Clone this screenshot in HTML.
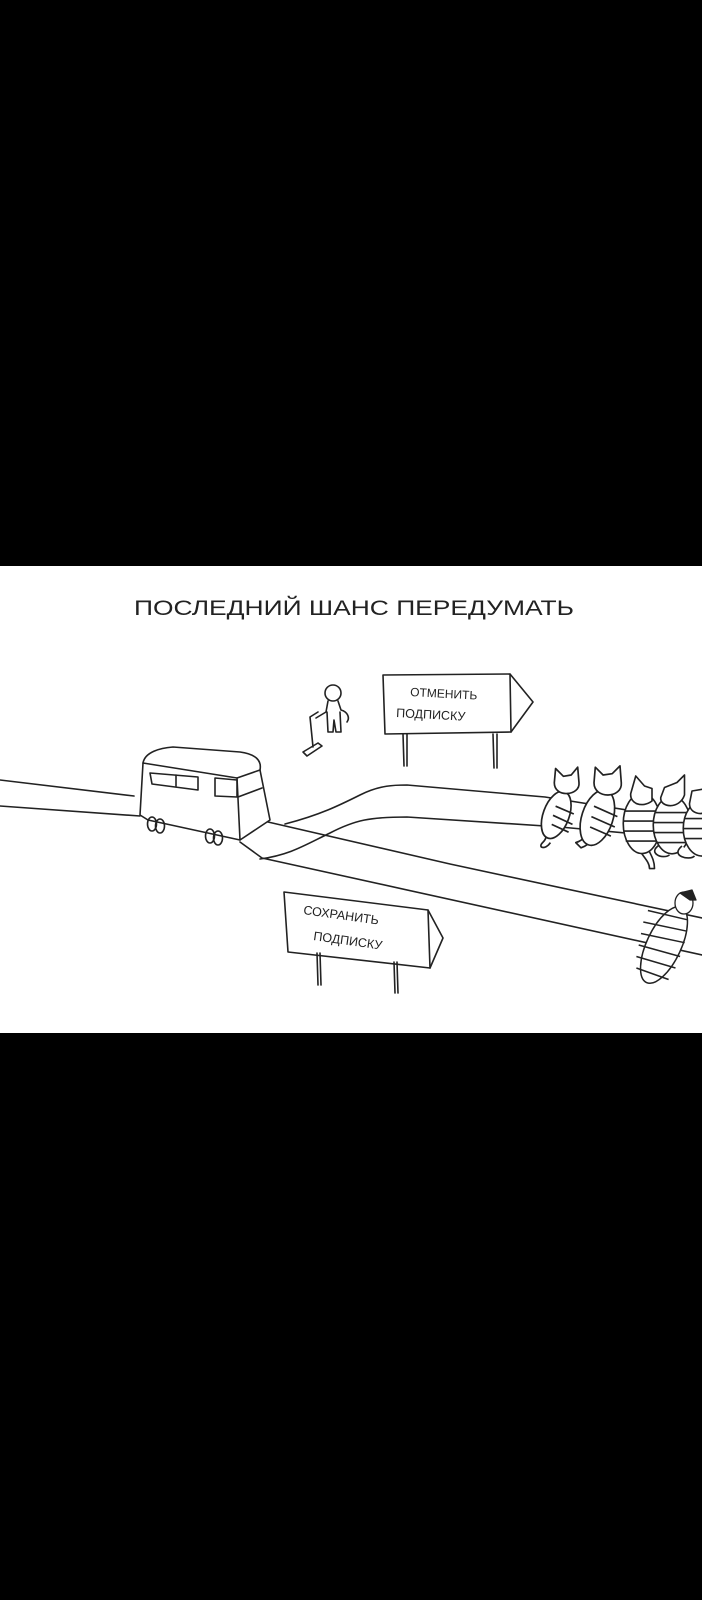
<!DOCTYPE html>
<html><head><meta charset="utf-8"><style>
html,body{margin:0;padding:0;background:#000;}
svg{display:block}
text{font-family:"Liberation Sans","DejaVu Sans",sans-serif;fill:#222}
</style></head><body>
<svg width="702" height="1600" viewBox="0 0 702 1600" xmlns="http://www.w3.org/2000/svg">
<rect x="0" y="0" width="702" height="1600" fill="#000"/>
<rect x="0" y="566" width="702" height="467" fill="#fff"/>
<text x="134" y="615" font-size="21" textLength="440" lengthAdjust="spacingAndGlyphs">ПОСЛЕДНИЙ ШАНС ПЕРЕДУМАТЬ</text>
<g fill="none" stroke="#222" stroke-width="1.6" stroke-linecap="round" stroke-linejoin="round">
<path d="M0 780 L134 796"/>
<path d="M0 806 L140 816"/>
<path d="M268 822 L450 864 L702 918"/>
<path d="M240 842 L262 858 L702 955"/>
<path d="M285 824 C320 815 340 805 360 795 C380 785 395 785 407 785 L545 797 L702 822"/>
<path d="M260 859 C290 855 305 845 330 833 C355 820 370 817 407 817 L560 827 L702 840"/>
<path d="M143 763 C145 752 160 748 173 747 L240 752 C255 754 262 760 260 770"/>
<path d="M143 763 L140 815 L148 820 L240 840 L237 778 Z"/>
<path d="M237 778 L260 770 L270 820 L240 840"/>
<path d="M238 797 L262 788"/>
<path d="M150 773 L198 777 L198 790 L152 784 Z"/>
<path d="M176 775 L176 786"/>
<path d="M215 778 L237 780 L237 797 L215 796 Z"/>
<ellipse cx="152" cy="824" rx="4.5" ry="7"/><ellipse cx="160" cy="826" rx="4.5" ry="7"/>
<ellipse cx="210" cy="836" rx="4.5" ry="7"/><ellipse cx="218" cy="838" rx="4.5" ry="7"/>
<path d="M383 675 L510 674 L533 702 L511 732 L385 734 Z"/>
<path d="M510 674 L511 732"/>
<path d="M403 734 L404 766 M407 734 L407 766"/>
<path d="M493 734 L494 768 M497 734 L497 768"/>
<circle cx="333" cy="693" r="8"/>
<path d="M328 701 L326 712 L316 718 M338 701 L341 710 C348 712 350 718 347 722 M327 712 L328 732 L333 732 L334 720 L336 732 L341 732 L340 712"/>
<path d="M310 717 L313 747 M303 752 L318 743 L322 746 L307 756 Z M310 717 L318 712"/>
<path d="M284 892 L428 910 L443 938 L430 968 L288 952 Z"/>
<path d="M428 910 L430 968"/>
<path d="M317 953 L318 985 M320 953 L321 985"/>
<path d="M394 962 L395 993 M397 962 L398 993"/>
</g>
<text x="410" y="696" font-size="12" transform="rotate(3 410 696)">ОТМЕНИТЬ</text>
<text x="396" y="717" font-size="12.5" transform="rotate(3 396 717)">ПОДПИСКУ</text>
<text x="303" y="914" font-size="12.5" transform="rotate(8 303 914)">СОХРАНИТЬ</text>
<text x="313" y="940" font-size="12.5" transform="rotate(8 313 940)">ПОДПИСКУ</text>
<g fill="#fff" stroke="#222" stroke-width="1.3" stroke-linejoin="round">
<g transform="translate(566,788) scale(1.3)"><path d="M-8 10 C-20 20 -10 35 -18 42 C-22 46 -16 48 -12 42"/><ellipse cx="0" cy="22" rx="10" ry="19" transform="rotate(20)"/><path d="M-8 14 L6 20 M-10 21 L5 28 M-11 28 L2 34" fill="none"/><path d="M-9 -4 L-8 -15 L-2 -9 L4 -10 L9 -16 L10 -4 C11 6 -9 8 -9 -4Z"/></g>
<g transform="translate(607,788) scale(1.3)"><path d="M-8 14 C-20 24 -10 38 -24 42 L-20 46 C-4 40 -12 28 -4 20" /><ellipse cx="0" cy="24" rx="12" ry="22" transform="rotate(18)"/><path d="M-10 14 L8 22 M-12 22 L6 30 M-13 30 L3 37" fill="none"/><path d="M-10 -4 L-9 -16 L-3 -10 L4 -11 L10 -17 L11 -4 C12 8 -10 9 -10 -4Z"/></g>
<g transform="translate(642,796) scale(1.25)"><path d="M-4 40 C0 48 6 52 6 58 L10 58 C10 50 6 46 4 40"/><ellipse cx="0" cy="22" rx="15" ry="24"/><path d="M-14 12 L14 12 M-15 20 L15 20 M-15 28 L15 28 M-13 36 L13 36" fill="none"/><path d="M-9 -2 L-5 -16 L2 -8 L8 -6 L8 4 C0 10 -10 6 -9 -2Z"/></g>
<g transform="translate(672,800) scale(1.25)"><path d="M-10 36 C-20 42 -8 48 -2 44"/><ellipse cx="0" cy="20" rx="15" ry="23"/><path d="M-14 10 L14 10 M-15 18 L15 18 M-15 26 L15 26 M-13 34 L13 34" fill="none"/><path d="M-9 -2 L-6 -10 L4 -14 L10 -20 L10 -4 C6 8 -10 6 -9 -2Z"/></g>
<g transform="translate(702,806) scale(1.25)"><path d="M-16 32 C-26 40 -10 44 -6 40"/><ellipse cx="0" cy="18" rx="15" ry="22"/><path d="M-14 10 L14 10 M-15 18 L15 18 M-14 26 L14 26" fill="none"/><path d="M-10 -2 L-8 -12 L4 -14 L4 4 C0 8 -10 6 -10 -2Z"/></g>
<g transform="translate(664,945) scale(1.15)"><ellipse cx="0" cy="0" rx="15" ry="36" transform="rotate(25)"/><path d="M-20 -10 L18 -2 M-22 0 L14 10 M-24 10 L10 20 M-24 20 L4 30 M-18 -20 L20 -12 M-14 -30 L20 -22" fill="none"/></g>
<ellipse cx="684" cy="903" rx="9" ry="11"/>
<path d="M680 893 L692 890 L696 900 L690 900 Z" fill="#222"/>
</g>
</svg>
</body></html>
